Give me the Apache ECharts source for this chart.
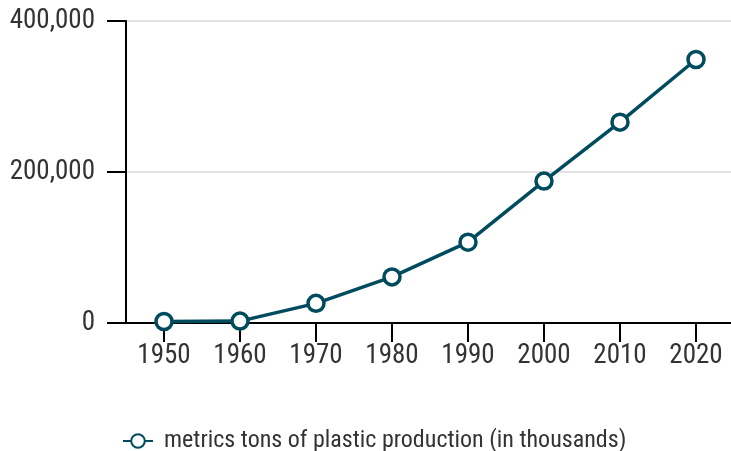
<!DOCTYPE html>
<html><head><meta charset="utf-8">
<script src="https://cdn.jsdelivr.net/npm/echarts@6/dist/echarts.min.js"></script>
<style>html,body{margin:0;padding:0;background:#fff}#c{width:731px;height:451px}</style>
</head><body><div id="c"></div>
<script>
const years = ['1950','1960','1970','1980','1990','2000','2010','2020'];
const production = [2000, 2500, 26000, 61000, 107000, 188000, 266000, 349000];
const seriesName = 'metrics tons of plastic production (in thousands)';
const FONT = '"Roboto Condensed", "Liberation Sans Narrow", "DejaVu Sans Condensed", sans-serif';
const chart = echarts.init(document.getElementById('c'));
chart.setOption({
  animation: false,
  textStyle: {fontFamily: FONT},
  grid: {left: 126, width: 608, top: 21, height: 302, outerBoundsMode: 'none'},
  legend: {
    data: [seriesName],
    top: 424, left: 117, itemWidth: 30, itemHeight: 17, itemGap: 10,
    textStyle: {fontFamily: FONT, fontSize: 24, color: '#333', padding: [0, 0, 0, 6]}
  },
  xAxis: {
    type: 'category', data: years, boundaryGap: true,
    axisLine: {lineStyle: {color: '#000', width: 2}},
    axisTick: {show: true, alignWithLabel: true, interval: 0, length: 19, lineStyle: {color: '#000', width: 2}},
    axisLabel: {
      interval: 0, margin: 0, align: 'center',
      formatter: v => '{t| }\n{v|' + v + '}',
      rich: {
        t: {width: 2, height: 19, lineHeight: 19, backgroundColor: '#000', align: 'center'},
        v: {fontFamily: FONT, fontSize: 27, lineHeight: 28, color: '#333', align: 'center'}
      }
    }
  },
  yAxis: {
    type: 'value', min: 0, max: 400000, interval: 200000,
    axisLine: {show: true, lineStyle: {color: '#000', width: 2}},
    axisTick: {show: true, length: 19, lineStyle: {color: '#000', width: 2}},
    axisLabel: {fontFamily: FONT, fontSize: 27, color: '#333', margin: 31,
      formatter: v => v.toLocaleString('en-US')},
    splitLine: {lineStyle: {color: '#e3e3e3', width: 2}}
  },
  series: [{
    name: seriesName, type: 'line', data: production,
    symbol: 'circle', symbolSize: 16, z: 3,
    lineStyle: {color: '#004c5e', width: 3.5},
    itemStyle: {color: '#fff', borderColor: '#004c5e', borderWidth: 3.5}
  }]
});
</script></body></html>
